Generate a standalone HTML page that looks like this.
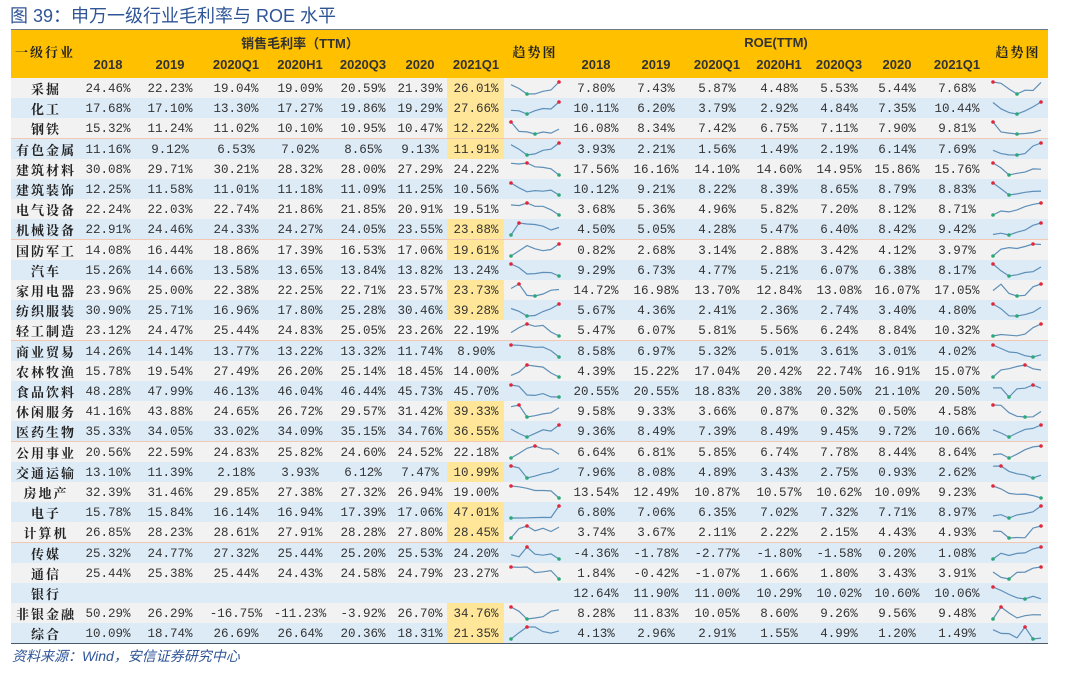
<!DOCTYPE html>
<html><head><meta charset="utf-8">
<style>
body{margin:0;width:1071px;height:675px;background:#fff;position:relative;overflow:hidden;font-family:"Liberation Sans","Noto Sans CJK SC",sans-serif;}
.t{position:absolute;left:10px;top:2px;font-size:18px;color:#2F5597;font-family:"Liberation Sans","Noto Sans CJK SC",sans-serif;}
.hdr{position:absolute;left:11px;top:29px;width:1037px;height:49px;background:#FFC000;border-top:1px solid #6b7b8c;}
.c{position:absolute;text-align:center;white-space:nowrap;line-height:16px;}
.h{font-weight:bold;font-size:13px;color:#333;font-family:"Liberation Sans","Noto Sans CJK SC",sans-serif;}
.n{font-family:"Noto Serif CJK SC","Noto Sans CJK SC",serif;font-weight:bold;font-size:13px;color:#222;letter-spacing:2px;}
.v{font-family:"Liberation Mono",monospace;font-size:12.5px;color:#333;}
.row{position:absolute;left:11px;width:1037px;height:20px;border-bottom:1px solid #F4C7B2;box-sizing:content-box;}
.foot{position:absolute;left:12px;top:646px;font-size:14px;color:#2F5597;font-style:italic;font-family:"Liberation Sans","Noto Sans CJK SC",sans-serif;}
</style></head><body>
<div class="t">图 39：申万一级行业毛利率与 ROE 水平</div>
<div class="hdr"></div>
<div id="tb"></div>
<div class="foot">资料来源：Wind，安信证券研究中心</div>
<script>
(function(){
var D=[
["采掘",[24.46,22.23,19.04,19.09,20.59,21.39,26.01],[7.80,7.43,5.87,4.48,5.53,5.44,7.68]],
["化工",[17.68,17.10,13.30,17.27,19.86,19.29,27.66],[10.11,6.20,3.79,2.92,4.84,7.35,10.44]],
["钢铁",[15.32,11.24,11.02,10.10,10.95,10.47,12.22],[16.08,8.34,7.42,6.75,7.11,7.90,9.81]],
["有色金属",[11.16,9.12,6.53,7.02,8.65,9.13,11.91],[3.93,2.21,1.56,1.49,2.19,6.14,7.69]],
["建筑材料",[30.08,29.71,30.21,28.32,28.00,27.29,24.22],[17.56,16.16,14.10,14.60,14.95,15.86,15.76]],
["建筑装饰",[12.25,11.58,11.01,11.18,11.09,11.25,10.56],[10.12,9.21,8.22,8.39,8.65,8.79,8.83]],
["电气设备",[22.24,22.03,22.74,21.86,21.85,20.91,19.51],[3.68,5.36,4.96,5.82,7.20,8.12,8.71]],
["机械设备",[22.91,24.46,24.33,24.27,24.05,23.55,23.88],[4.50,5.05,4.28,5.47,6.40,8.42,9.42]],
["国防军工",[14.08,16.44,18.86,17.39,16.53,17.06,19.61],[0.82,2.68,3.14,2.88,3.42,4.12,3.97]],
["汽车",[15.26,14.66,13.58,13.65,13.84,13.82,13.24],[9.29,6.73,4.77,5.21,6.07,6.38,8.17]],
["家用电器",[23.96,25.00,22.38,22.25,22.71,23.57,23.73],[14.72,16.98,13.70,12.84,13.08,16.07,17.05]],
["纺织服装",[30.90,25.71,16.96,17.80,25.28,30.46,39.28],[5.67,4.36,2.41,2.36,2.74,3.40,4.80]],
["轻工制造",[23.12,24.47,25.44,24.83,25.05,23.26,22.19],[5.47,6.07,5.81,5.56,6.24,8.84,10.32]],
["商业贸易",[14.26,14.14,13.77,13.22,13.32,11.74,8.90],[8.58,6.97,5.32,5.01,3.61,3.01,4.02]],
["农林牧渔",[15.78,19.54,27.49,26.20,25.14,18.45,14.00],[4.39,15.22,17.04,20.42,22.74,16.91,15.07]],
["食品饮料",[48.28,47.99,46.13,46.04,46.44,45.73,45.70],[20.55,20.55,18.83,20.38,20.50,21.10,20.50]],
["休闲服务",[41.16,43.88,24.65,26.72,29.57,31.42,39.33],[9.58,9.33,3.66,0.87,0.32,0.50,4.58]],
["医药生物",[35.33,34.05,33.02,34.09,35.15,34.76,36.55],[9.36,8.49,7.39,8.49,9.45,9.72,10.66]],
["公用事业",[20.56,22.59,24.83,25.82,24.60,24.52,22.18],[6.64,6.81,5.85,6.74,7.78,8.44,8.64]],
["交通运输",[13.10,11.39,2.18,3.93,6.12,7.47,10.99],[7.96,8.08,4.89,3.43,2.75,0.93,2.62]],
["房地产",[32.39,31.46,29.85,27.38,27.32,26.94,19.00],[13.54,12.49,10.87,10.57,10.62,10.09,9.23]],
["电子",[15.78,15.84,16.14,16.94,17.39,17.06,47.01],[6.80,7.06,6.35,7.02,7.32,7.71,8.97]],
["计算机",[26.85,28.23,28.61,27.91,28.28,27.80,28.45],[3.74,3.67,2.11,2.22,2.15,4.43,4.93]],
["传媒",[25.32,24.77,27.32,25.44,25.20,25.53,24.20],[-4.36,-1.78,-2.77,-1.80,-1.58,0.20,1.08]],
["通信",[25.44,25.38,25.44,24.43,24.58,24.79,23.27],[1.84,-0.42,-1.07,1.66,1.80,3.43,3.91]],
["银行",null,[12.64,11.90,11.00,10.29,10.02,10.60,10.06]],
["非银金融",[50.29,26.29,-16.75,-11.23,-3.92,26.70,34.76],[8.28,11.83,10.05,8.60,9.26,9.56,9.48]],
["综合",[10.09,18.74,26.69,26.64,20.36,18.31,21.35],[4.13,2.96,2.91,1.55,4.99,1.20,1.49]]];
var MC=[108,170,236,300,363,420,476],RC=[596,656,717,779,839,897,957];
var h='';
function cell(cx,y,txt,cls,w){w=w||70;return '<div class="c '+cls+'" style="left:'+(cx-w/2)+'px;top:'+y+'px;width:'+w+'px">'+txt+'</div>';}
h+=cell(45,44,'一级行业','h n',80);
h+=cell(300,36,'销售毛利率（TTM）','h',200);
h+=cell(776,35,'ROE(TTM)','h',200);
h+=cell(535,44,'趋势图','h n',70);h+=cell(1018,44,'趋势图','h n',70);
var Y=['2018','2019','2020Q1','2020H1','2020Q3','2020','2021Q1'];
for(var i=0;i<7;i++){h+=cell(MC[i],57,Y[i],'h');h+=cell(RC[i],57,Y[i],'h');}
function spark(x0,yc,a){var mn=Math.min.apply(null,a),mx=Math.max.apply(null,a),r=mx-mn||1,w=48,H=12;
var p=a.map(function(v,i){return [x0+i*w/6,yc+H/2-(v-mn)/r*H];});
var s='<polyline fill="none" stroke="#5E8FB8" stroke-width="1.2" points="'+p.map(function(q){return q[0].toFixed(1)+','+q[1].toFixed(1)}).join(' ')+'"/>';
var im=a.indexOf(mx),in_=a.indexOf(mn);
s+='<circle cx="'+p[im][0]+'" cy="'+p[im][1]+'" r="1.8" fill="#E0263A"/>';
s+='<circle cx="'+p[in_][0]+'" cy="'+p[in_][1]+'" r="1.8" fill="#2AA876"/>';return s;}
var svg='';
for(var r=0;r<D.length;r++){var yy=Math.round(78+r*20.2),d=D[r];
h+='<div class="row" style="top:'+yy+'px;background:'+(r%2?'#DDEBF7':'#F2F2F2')+'"></div>';
if(d[1]&&d[1][6]>d[1][5])h+='<div style="position:absolute;left:447px;top:'+yy+'px;width:57px;height:20px;background:#FFE699"></div>';
var ty=yy+3;
h+=cell(46,ty,d[0],'n',80);
if(d[1]){for(var i=0;i<7;i++)h+=cell(MC[i],ty,d[1][i].toFixed(2)+'%','v');svg+=spark(511,yy+10,d[1]);}
for(var i=0;i<7;i++)h+=cell(RC[i],ty,d[2][i].toFixed(2)+'%','v');
svg+=spark(993,yy+10,d[2]);}
h+='<div style="position:absolute;left:11px;top:643px;width:1037px;height:1px;background:#4a5a6a"></div>';
h+='<svg style="position:absolute;left:0;top:0" width="1071" height="675">'+svg+'</svg>';
document.getElementById('tb').innerHTML=h;
})();
</script>
</body></html>
